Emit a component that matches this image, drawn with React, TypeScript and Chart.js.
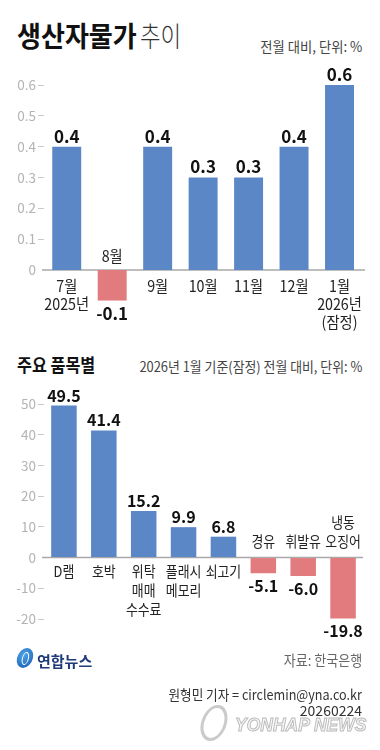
import React, { useEffect, useRef } from "react";
import { Chart, registerables } from "chart.js";

Chart.register(...registerables);

// ---- data ----
const monthLabels: string[][] = [["7월", "2025년"], ["8월"], ["9월"], ["10월"], ["11월"], ["12월"], ["1월", "2026년", "(잠정)"]];
const monthValues: number[] = [0.4, -0.1, 0.4, 0.3, 0.3, 0.4, 0.6];
const monthAxisMin = -0.1;
const monthAxisMax = 0.6;
const monthAxisStep = 0.1;

const itemLabels: string[][] = [["D램"], ["호박"], ["위탁", "매매", "수수료"], ["플래시", "메모리"], ["쇠고기"], ["경유"], ["휘발유"], ["냉동", "오징어"]];
const itemValues: number[] = [49.5, 41.4, 15.2, 9.9, 6.8, -5.1, -6.0, -19.8];
const itemAxisMin = -20;
const itemAxisMax = 50;
const itemAxisStep = 10;

const BLUE = "#5b87c6";
const RED = "#e17b7e";
const FONT = '"Noto Sans CJK KR", "Noto Sans", sans-serif';

type Cfg = {
  labels: string[][];
  values: number[];
  min: number;
  max: number;
  step: number;
  hideBelowZeroTicks: boolean;
  tickFmt: (v: number) => string;
  padTop: number;
  padBottom: number;
  padRight: number;
  barPct: number;
  valueFont: number;
  catFont: number;
  catScale: number;
  posFirst: number;
  posStep: number;
  negLast: number;
  negStep: number;
  negValueOffset: number;
  zeroLeft: number;
  zeroRight: number;
};

function drawScaled(ctx: CanvasRenderingContext2D, text: string, x: number, y: number, sx: number) {
  ctx.save();
  ctx.translate(x, y);
  ctx.scale(sx, 1);
  ctx.fillText(text, 0, 0);
  ctx.restore();
}

function makePlugin(cfg: Cfg) {
  return {
    id: "barDecor",
    beforeDatasetsDraw(chart: any) {
      const ctx = chart.ctx as CanvasRenderingContext2D;
      const y0 = chart.scales.y.getPixelForValue(0);
      ctx.save();
      ctx.strokeStyle = "#a9a9a9";
      ctx.lineWidth = 1.5;
      ctx.beginPath();
      ctx.moveTo(cfg.zeroLeft, y0);
      ctx.lineTo(cfg.zeroRight, y0);
      ctx.stroke();
      ctx.restore();
    },
    afterDatasetsDraw(chart: any) {
      const ctx = chart.ctx as CanvasRenderingContext2D;
      const meta = chart.getDatasetMeta(0);
      const y0 = chart.scales.y.getPixelForValue(0);
      ctx.save();
      ctx.textAlign = "center";
      ctx.textBaseline = "alphabetic";
      meta.data.forEach((bar: any, i: number) => {
        const v = cfg.values[i];
        const lines = chart.data.labels[i] as string[];
        // value label
        ctx.fillStyle = "#111";
        ctx.font = `bold ${cfg.valueFont}px ${FONT}`;
        const txt = v.toFixed(1);
        if (v >= 0) {
          ctx.fillText(txt, bar.x, bar.y - 4);
        } else {
          ctx.fillText(txt, bar.x, bar.y + cfg.negValueOffset);
        }
        // category label
        ctx.fillStyle = "#222";
        ctx.font = `${cfg.catFont}px ${FONT}`;
        if (v >= 0) {
          lines.forEach((ln, k) => {
            drawScaled(ctx, ln, bar.x, y0 + cfg.posFirst + k * cfg.posStep, cfg.catScale);
          });
        } else {
          const n = lines.length;
          lines.forEach((ln, k) => {
            drawScaled(ctx, ln, bar.x, y0 - cfg.negLast - (n - 1 - k) * cfg.negStep, cfg.catScale);
          });
        }
      });
      ctx.restore();
    },
  };
}

function BarChart({ cfg, top, height }: { cfg: Cfg; top: number; height: number }) {
  const ref = useRef<HTMLCanvasElement | null>(null);
  useEffect(() => {
    if (!ref.current) return;
    const chart = new Chart(ref.current, {
      type: "bar",
      data: {
        labels: cfg.labels as any,
        datasets: [
          {
            data: cfg.values,
            backgroundColor: cfg.values.map((v) => (v >= 0 ? BLUE : RED)),
            borderWidth: 0,
            barPercentage: cfg.barPct,
            categoryPercentage: 1,
          },
        ],
      },
      options: {
        animation: false,
        responsive: false,
        maintainAspectRatio: false,
        devicePixelRatio: 1,
        layout: { padding: { top: cfg.padTop, bottom: cfg.padBottom, left: 0, right: cfg.padRight } },
        plugins: { legend: { display: false }, tooltip: { enabled: false } },
        scales: {
          x: { display: false },
          y: {
            min: cfg.min,
            max: cfg.max,
            afterBuildTicks: (s: any) => {
              if (cfg.hideBelowZeroTicks) s.ticks = s.ticks.filter((t: any) => t.value > -1e-9);
            },
            afterFit: (s: any) => {
              s.width = 44;
            },
            ticks: {
              stepSize: cfg.step,
              color: "#b3b3b3",
              padding: 2,
              font: { family: FONT, size: 13.5 },
              callback: (v: any) => cfg.tickFmt(Number(v)),
            },
            grid: {
              drawOnChartArea: false,
              drawTicks: true,
              tickLength: 6,
              tickColor: (c: any) => (c.tick && Math.abs(c.tick.value) < 1e-9 ? "rgba(0,0,0,0)" : "#c9c9c9"),
            },
            border: { display: false },
          },
        },
      },
      plugins: [makePlugin(cfg)],
    } as any);
    return () => chart.destroy();
  }, []);
  return (
    <canvas
      ref={ref}
      width={380}
      height={height}
      style={{ position: "absolute", left: 0, top, width: 380, height, display: "block" }}
    />
  );
}

function T({
  x,
  y,
  size,
  children,
  weight = 400,
  color = "#222",
  align = "left",
  sx = 1,
  style = {},
}: any) {
  const base: any = {
    position: "absolute",
    top: y - size * 0.88,
    fontSize: size,
    lineHeight: `${size}px`,
    fontFamily: FONT,
    fontWeight: weight,
    color,
    whiteSpace: "nowrap",
    transform: `scaleX(${sx})`,
    ...style,
  };
  if (align === "right") {
    base.right = 380 - x;
    base.transformOrigin = "right center";
  } else {
    base.left = x;
    base.transformOrigin = "left center";
  }
  return <div style={base}>{children}</div>;
}

const monthCfg: Cfg = {
  labels: monthLabels,
  values: monthValues,
  min: monthAxisMin,
  max: monthAxisMax,
  step: monthAxisStep,
  hideBelowZeroTicks: true,
  tickFmt: (v) => (Math.abs(v) < 1e-9 ? "0" : v.toFixed(1)),
  padTop: 25,
  padBottom: 49.2,
  padRight: 17.75,
  barPct: 0.637,
  valueFont: 17,
  catFont: 15.5,
  catScale: 0.92,
  posFirst: 22,
  posStep: 18,
  negLast: 8,
  negStep: 18,
  negValueOffset: 19,
  zeroLeft: 42,
  zeroRight: 365,
};

const itemCfg: Cfg = {
  labels: itemLabels,
  values: itemValues,
  min: itemAxisMin,
  max: itemAxisMax,
  step: itemAxisStep,
  hideBelowZeroTicks: false,
  tickFmt: (v) => String(Math.round(v)),
  padTop: 24,
  padBottom: 61,
  padRight: 17,
  barPct: 0.64,
  valueFont: 16,
  catFont: 15,
  catScale: 0.86,
  posFirst: 19,
  posStep: 19,
  negLast: 11,
  negStep: 18.5,
  negValueOffset: 19,
  zeroLeft: 42,
  zeroRight: 363,
};

export default function App() {
  return (
    <div
      style={{
        position: "absolute",
        left: 0,
        top: 0,
        width: 380,
        height: 750,
        background: "#fff",
        overflow: "hidden",
        fontFamily: FONT,
      }}
    >
      <BarChart cfg={monthCfg} top={60} height={290} />
      <BarChart cfg={itemCfg} top={380} height={300} />

      <T x={17} y={46} size={28} weight={700} color="#111" sx={0.93}>
        생산자물가
      </T>
      <T x={140} y={46} size={28} weight={300} color="#333" sx={0.8}>
        추이
      </T>
      <T x={362} y={51} size={14} color="#444" align="right" sx={0.95}>
        전월 대비, 단위: %
      </T>

      <T x={17} y={371} size={18} weight={700} color="#111" sx={0.9}>
        주요 품목별
      </T>
      <T x={362} y={371} size={14} color="#444" align="right" sx={0.92}>
        2026년 1월 기준(잠정) 전월 대비, 단위: %
      </T>

      {/* Yonhap logo */}
      <div
        style={{
          position: "absolute",
          left: 17,
          top: 648,
          width: 16,
          height: 20,
          borderRadius: "50%",
          background: "radial-gradient(circle at 40% 35%, #4fa3e8, #1559b0)",
          transform: "skewX(-12deg)",
        }}
      >
        <div
          style={{
            position: "absolute",
            left: 5,
            top: 4,
            width: 5,
            height: 11,
            borderRadius: "50%",
            border: "1.5px solid #fff",
          }}
        />
      </div>
      <T x={37} y={666} size={15} weight={700} color="#1e3a78">
        연합뉴스
      </T>

      <T x={362} y={666} size={14.5} color="#666" align="right" sx={0.9}>
        자료: 한국은행
      </T>
      <T x={362} y={699} size={14} color="#333" align="right" sx={0.9}>
        원형민 기자 = circlemin@yna.co.kr
      </T>
      <T x={362} y={715} size={14} color="#333" align="right">
        20260224
      </T>

      {/* watermark */}
      <div
        style={{
          position: "absolute",
          left: 201,
          top: 705,
          width: 20,
          height: 30,
          borderRadius: "50%",
          border: "3px solid rgba(190,190,190,0.8)",
          transform: "skewX(-12deg)",
        }}
      />
      <div
        style={{
          position: "absolute",
          left: 235,
          top: 715,
          fontFamily: '"Liberation Sans", sans-serif',
          fontWeight: 700,
          fontStyle: "italic",
          fontSize: 19,
          lineHeight: "19px",
          color: "rgba(245,245,245,0.9)",
          WebkitTextStroke: "1px rgba(180,180,180,0.9)",
          whiteSpace: "nowrap",
          transform: "scaleX(0.92)",
          transformOrigin: "left center",
        }}
      >
        YONHAP NEWS
      </div>
    </div>
  );
}
